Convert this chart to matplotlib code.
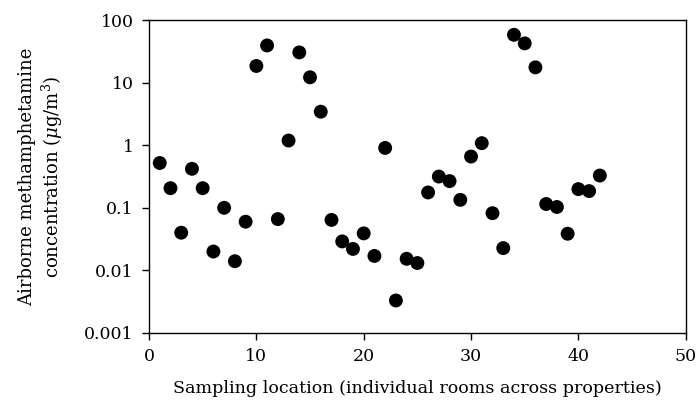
import matplotlib
matplotlib.use("Agg")
import matplotlib.pyplot as plt
from matplotlib.ticker import FixedLocator, FixedFormatter, NullLocator

# Sampling locations (rooms) and airborne methamphetamine, µg/m3
locations = list(range(1, 43))
concentration = [
    0.52, 0.206, 0.040, 0.42, 0.206, 0.020, 0.10, 0.014, 0.060, 18.5,
    39.4, 0.066, 1.19, 30.5, 12.2, 3.44, 0.064, 0.029, 0.022, 0.039,
    0.017, 0.906, 0.0033, 0.0153, 0.0131, 0.176, 0.316, 0.267, 0.134, 0.66,
    1.08, 0.082, 0.0227, 58.3, 42.5, 17.6, 0.115, 0.103, 0.0385, 0.199,
    0.185, 0.328,
]
ytick_values = [0.001, 0.01, 0.1, 1, 10, 100]
ytick_labels = ["0.001", "0.01", "0.1", "1", "10", "100"]
xtick_values = [0, 10, 20, 30, 40, 50]

plt.rcParams["font.family"] = ["DejaVu Serif"]
plt.rcParams["mathtext.fontset"] = "dejavuserif"
plt.rcParams["font.size"] = 13

fig = plt.figure(figsize=(6.97, 4.11), dpi=100)
ax = fig.add_axes([0.2138, 0.19, 0.770, 0.761])

ax.scatter(locations, concentration, s=100, color="black", edgecolors="none", zorder=3)

ax.set_yscale("log")
ax.set_ylim(0.001, 100)
ax.set_xlim(0, 50)
ax.yaxis.set_major_locator(FixedLocator(ytick_values))
ax.yaxis.set_major_formatter(FixedFormatter(ytick_labels))
ax.yaxis.set_minor_locator(NullLocator())
ax.set_xticks(xtick_values)

for s in ax.spines.values():
    s.set_linewidth(1.0)
ax.tick_params(direction="out", length=5, width=1.0, pad=6, labelsize=12.5)

ax.set_xlabel("Sampling location (individual rooms across properties)",
              fontsize=12.6, labelpad=11)
ax.set_ylabel("Airborne methamphetamine\nconcentration ($\\mu$g/m$^3$)", labelpad=14)

fig.savefig("out.png", dpi=100)
